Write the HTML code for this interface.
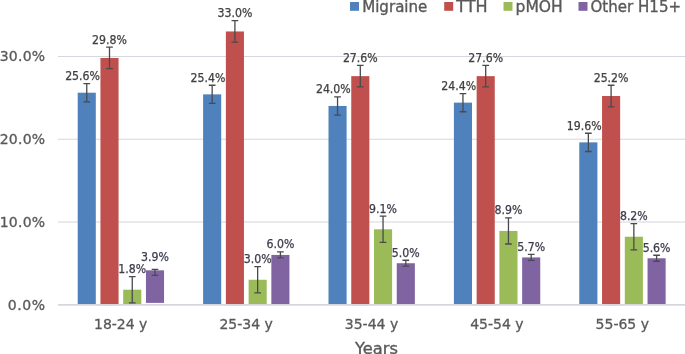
<!DOCTYPE html>
<html lang="en"><head><meta charset="utf-8"><title>Headache prevalence by age</title>
<style>html,body{margin:0;padding:0;background:#fff}body{width:685px;height:354px;overflow:hidden}svg{display:block}text{font-family:"DejaVu Sans","Liberation Sans",sans-serif}.ax{font-size:14px;fill:#595959;stroke:#595959;stroke-width:.3px}.lg{font-size:15px;fill:#595959;stroke:#595959;stroke-width:.35px}.dl{font-family:"DejaVu Sans Condensed","DejaVu Sans","Liberation Sans",sans-serif;font-size:12.2px;fill:#404040;stroke:#404040;stroke-width:.25px}.d2{fill:#3c3c4c;stroke:#3c3c4c}.eb{stroke:#4a4a4e;stroke-width:1.3;fill:none}</style></head><body>
<svg width="685" height="354" viewBox="0 0 685 354">
<rect width="685" height="354" fill="#fff"/>
<line x1="58.0" x2="685" y1="222.03" y2="222.03" stroke="#d6d6de" stroke-width="1.1"/>
<line x1="58.0" x2="685" y1="139.26" y2="139.26" stroke="#d6d6de" stroke-width="1.1"/>
<line x1="58.0" x2="685" y1="56.49" y2="56.49" stroke="#d6d6de" stroke-width="1.1"/>
<rect x="77.70" y="92.71" width="18.1" height="212.19" fill="#4f81bd"/>
<rect x="100.45" y="57.95" width="18.1" height="247.25" fill="#c0504d"/>
<rect x="123.20" y="289.70" width="18.1" height="15.20" fill="#9bbb59"/>
<rect x="145.95" y="270.32" width="18.1" height="32.58" fill="#8064a2"/>
<rect x="203.10" y="94.36" width="18.1" height="210.54" fill="#4f81bd"/>
<rect x="225.85" y="31.46" width="18.1" height="273.74" fill="#c0504d"/>
<rect x="248.60" y="279.77" width="18.1" height="25.13" fill="#9bbb59"/>
<rect x="271.35" y="254.94" width="18.1" height="49.96" fill="#8064a2"/>
<rect x="328.50" y="105.95" width="18.1" height="198.95" fill="#4f81bd"/>
<rect x="351.25" y="76.15" width="18.1" height="229.05" fill="#c0504d"/>
<rect x="374.00" y="229.28" width="18.1" height="75.62" fill="#9bbb59"/>
<rect x="396.75" y="263.22" width="18.1" height="41.69" fill="#8064a2"/>
<rect x="453.90" y="102.64" width="18.1" height="202.26" fill="#4f81bd"/>
<rect x="476.65" y="76.15" width="18.1" height="229.05" fill="#c0504d"/>
<rect x="499.40" y="230.93" width="18.1" height="73.97" fill="#9bbb59"/>
<rect x="522.15" y="257.42" width="18.1" height="47.48" fill="#8064a2"/>
<rect x="579.30" y="142.37" width="18.1" height="162.53" fill="#4f81bd"/>
<rect x="602.05" y="96.02" width="18.1" height="209.18" fill="#c0504d"/>
<rect x="624.80" y="236.73" width="18.1" height="68.17" fill="#9bbb59"/>
<rect x="647.55" y="258.25" width="18.1" height="46.65" fill="#8064a2"/>
<line x1="58.0" x2="685" y1="304.90" y2="304.90" stroke="#d6d6dc" stroke-width="1.7"/>
<path class="eb" d="M86.75 83.60V101.81M83.40 83.60H90.10M83.40 101.81H90.10"/>
<text class="dl" text-anchor="middle" x="82.55" y="80.10">25.6%</text>
<path class="eb" d="M109.50 47.19V68.71M106.15 47.19H112.85M106.15 68.71H112.85"/>
<text class="dl" text-anchor="middle" x="109.50" y="43.69">29.8%</text>
<path class="eb" d="M132.25 276.62V302.78M128.90 276.62H135.60M128.90 302.78H135.60"/>
<text class="dl d2" text-anchor="middle" x="132.25" y="272.60">1.8%</text>
<path class="eb" d="M155.00 269.34V275.30M151.65 269.34H158.35M151.65 275.30H158.35"/>
<text class="dl d2" text-anchor="middle" x="155.00" y="261.40">3.9%</text>
<path class="eb" d="M212.15 85.26V103.47M208.80 85.26H215.50M208.80 103.47H215.50"/>
<text class="dl" text-anchor="middle" x="207.95" y="81.76">25.4%</text>
<path class="eb" d="M234.90 20.70V42.22M231.55 20.70H238.25M231.55 42.22H238.25"/>
<text class="dl" text-anchor="middle" x="234.90" y="17.20">33.0%</text>
<path class="eb" d="M257.65 266.69V292.85M254.30 266.69H261.00M254.30 292.85H261.00"/>
<text class="dl d2" text-anchor="middle" x="257.65" y="263.19">3.0%</text>
<path class="eb" d="M280.40 251.96V257.92M277.05 251.96H283.75M277.05 257.92H283.75"/>
<text class="dl d2" text-anchor="middle" x="280.40" y="248.46">6.0%</text>
<path class="eb" d="M337.55 96.85V115.06M334.20 96.85H340.90M334.20 115.06H340.90"/>
<text class="dl" text-anchor="middle" x="333.35" y="93.35">24.0%</text>
<path class="eb" d="M360.30 65.39V86.91M356.95 65.39H363.65M356.95 86.91H363.65"/>
<text class="dl" text-anchor="middle" x="360.30" y="61.89">27.6%</text>
<path class="eb" d="M383.05 216.20V242.36M379.70 216.20H386.40M379.70 242.36H386.40"/>
<text class="dl d2" text-anchor="middle" x="383.05" y="212.70">9.1%</text>
<path class="eb" d="M405.80 260.24V266.19M402.45 260.24H409.15M402.45 266.19H409.15"/>
<text class="dl d2" text-anchor="middle" x="405.80" y="256.74">5.0%</text>
<path class="eb" d="M462.95 93.54V111.75M459.60 93.54H466.30M459.60 111.75H466.30"/>
<text class="dl" text-anchor="middle" x="458.75" y="90.04">24.4%</text>
<path class="eb" d="M485.70 65.39V86.91M482.35 65.39H489.05M482.35 86.91H489.05"/>
<text class="dl" text-anchor="middle" x="485.70" y="61.89">27.6%</text>
<path class="eb" d="M508.45 217.86V244.01M505.10 217.86H511.80M505.10 244.01H511.80"/>
<text class="dl d2" text-anchor="middle" x="508.45" y="214.36">8.9%</text>
<path class="eb" d="M531.20 254.44V260.40M527.85 254.44H534.55M527.85 260.40H534.55"/>
<text class="dl d2" text-anchor="middle" x="531.20" y="250.94">5.7%</text>
<path class="eb" d="M588.35 133.27V151.48M585.00 133.27H591.70M585.00 151.48H591.70"/>
<text class="dl" text-anchor="middle" x="584.15" y="129.77">19.6%</text>
<path class="eb" d="M611.10 85.26V106.78M607.75 85.26H614.45M607.75 106.78H614.45"/>
<text class="dl" text-anchor="middle" x="611.10" y="81.76">25.2%</text>
<path class="eb" d="M633.85 223.65V249.81M630.50 223.65H637.20M630.50 249.81H637.20"/>
<text class="dl d2" text-anchor="middle" x="633.85" y="220.15">8.2%</text>
<path class="eb" d="M656.60 255.27V261.23M653.25 255.27H659.95M653.25 261.23H659.95"/>
<text class="dl d2" text-anchor="middle" x="656.60" y="251.77">5.6%</text>
<text class="ax" x="7.80" y="309.60" textLength="37.3" lengthAdjust="spacing">0.0%</text>
<text class="ax" x="-0.30" y="226.83" textLength="45.4" lengthAdjust="spacing">10.0%</text>
<text class="ax" x="-0.30" y="144.06" textLength="45.4" lengthAdjust="spacing">20.0%</text>
<text class="ax" x="-0.30" y="61.29" textLength="45.4" lengthAdjust="spacing">30.0%</text>
<text class="ax" text-anchor="middle" x="120.70" y="328.5">18-24 y</text>
<text class="ax" text-anchor="middle" x="246.10" y="328.5">25-34 y</text>
<text class="ax" text-anchor="middle" x="371.50" y="328.5">35-44 y</text>
<text class="ax" text-anchor="middle" x="496.90" y="328.5">45-54 y</text>
<text class="ax" text-anchor="middle" x="622.30" y="328.5">55-65 y</text>
<text class="lg" x="355.0" y="353.9" textLength="42.9" lengthAdjust="spacingAndGlyphs">Years</text>
<rect x="350" y="2.0" width="9" height="8.8" fill="#4f81bd"/>
<text class="lg" x="362.2" y="11.7" textLength="65.2" lengthAdjust="spacingAndGlyphs">Migraine</text>
<rect x="444.2" y="2.0" width="9" height="8.8" fill="#c0504d"/>
<text class="lg" x="456.3" y="11.7" textLength="31.4" lengthAdjust="spacingAndGlyphs">TTH</text>
<rect x="503.5" y="2.0" width="9" height="8.8" fill="#9bbb59"/>
<text class="lg" x="515.6" y="11.7" textLength="47.2" lengthAdjust="spacingAndGlyphs">pMOH</text>
<rect x="578.5" y="2.0" width="9" height="8.8" fill="#8064a2"/>
<text class="lg" x="590.5" y="11.7" textLength="90.6" lengthAdjust="spacingAndGlyphs">Other H15+</text>
</svg></body></html>
